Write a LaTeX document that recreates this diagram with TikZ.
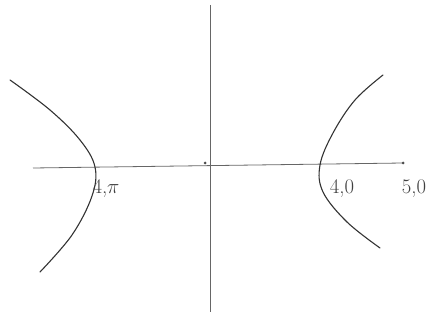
\documentclass[tikz,border=0pt]{standalone}
\usetikzlibrary{calc}
\begin{document}
\begin{tikzpicture}[x=1pt,y=-1pt,
  axis/.style={draw=black!60,line width=0.8pt},
  branch/.style={draw=black!80,line width=1.1pt,line cap=round},
  dotmark/.style={circle,fill=black!70,inner sep=0pt,minimum size=3pt},
  lbl/.style={font=\huge,text=black!75,inner sep=1pt}]
\useasboundingbox (0,0) rectangle (435,320);
\coordinate (xl) at (33,168);
\coordinate (xr) at (403,163);
\coordinate (yt) at (210,5);
\coordinate (yb) at (210,312);
\draw[axis] (xl) -- (xr);
\draw[axis] (yt) -- (yb);
\node[dotmark] (o) at (205,163) {};
\node[dotmark] (e) at (xr) {};
\draw[branch] plot[smooth,tension=0.6] coordinates {(10,80) (50,110) (80,140) (95,167) (92,196) (72,235) (40,272)};
\draw[branch] plot[smooth,tension=0.6] coordinates {(383,75) (355,100) (333,133) (320,165) (323,192) (347,222) (380,248)};
\node[lbl] (la) at (106,189) {4,$\pi$};
\node[lbl] (lb) at (342,189) {4,0};
\node[lbl] (lc) at (414,189) {5,0};
\end{tikzpicture}
\end{document}
